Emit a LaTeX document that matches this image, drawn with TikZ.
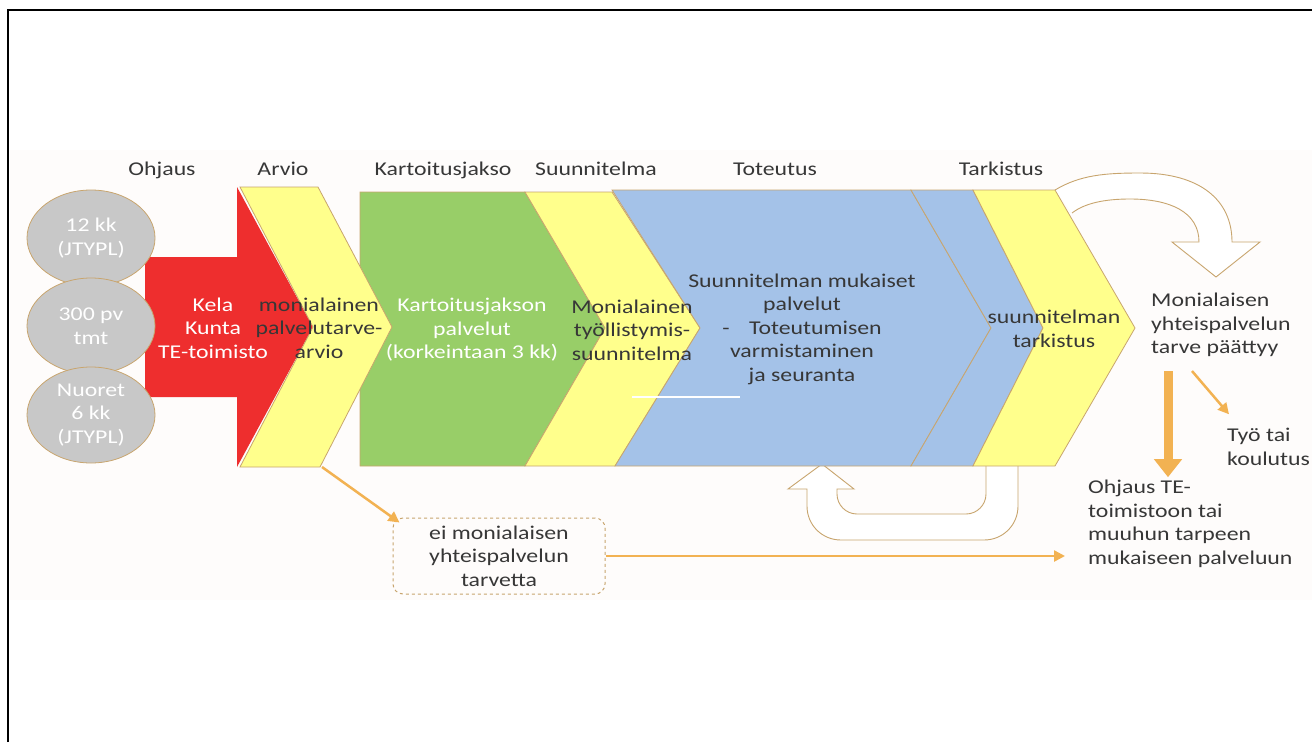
\documentclass[tikz,border=0pt]{standalone}
\usepackage{fontspec}
\setmainfont{Carlito}[FakeStretch=1.22]
\usetikzlibrary{shapes.geometric, arrows.meta}

\definecolor{edgetan}{RGB}{200,165,110}
\definecolor{darktext}{RGB}{55,55,55}
\definecolor{redfill}{RGB}{238,46,46}
\definecolor{yellowfill}{RGB}{255,255,140}
\definecolor{greenfill}{RGB}{152,206,104}
\definecolor{bluefill}{RGB}{164,194,232}
\definecolor{grayfill}{RGB}{200,200,200}
\definecolor{orangeline}{RGB}{242,178,82}
\definecolor{paneltint}{RGB}{254,252,251}

\tikzset{
  stage/.style={draw=edgetan, line width=0.8pt},
  head/.style={text=darktext, anchor=base},
  txt/.style={text=darktext, align=center},
  wtxt/.style={text=white, align=center},
  ltxt/.style={text=darktext, align=left, anchor=west, inner sep=0pt},
  bubble/.style={ellipse, draw=edgetan, line width=0.8pt, fill=grayfill,
    minimum width=128pt, minimum height=96pt, text=white, align=center, inner sep=0pt},
  uturn/.style={draw=edgetan, line width=0.9pt, fill=white},
  flow/.style={orangeline, line width=2.5pt, -{Triangle[width=11pt,length=11pt]}},
  bigflow/.style={orangeline, line width=9pt, -{Triangle[width=27pt,length=18pt]}}
}

\begin{document}
\begin{tikzpicture}[x=1pt, y=-1pt, font=\fontsize{19.5}{23.5}\selectfont]
    \useasboundingbox (0,0) rectangle (1312,742);
    \fill[paneltint] (10,150) rectangle (1312,600);
    \draw[line width=2.5pt] (8,742) -- (8,10) -- (1312,10);

    %loop arrows
    \draw[uturn] (1055,190) .. controls (1080,175) and (1105,173) .. (1140,173)
      .. controls (1200,173) and (1232,200) .. (1232,242) -- (1260,242) -- (1216,277)
      -- (1172,242) -- (1199,242) .. controls (1199,212) and (1170,199) .. (1130,199)
      .. controls (1105,199) and (1085,203) .. (1072,213);
    \draw[uturn] (1018,466) -- (1018,506) .. controls (1018,525) and (1003,540) .. (984,540)
      -- (841,540) .. controls (822,540) and (807,525) .. (807,506) -- (807,489)
      -- (788,489) -- (822,464) -- (854,489) -- (837,489) -- (837,494)
      .. controls (837,505) and (846,514) .. (857,514) -- (966,514)
      .. controls (977,514) and (986,505) .. (986,494) -- (986,466);

    %stages
    \draw[stage, fill=greenfill] (360,192) -- (525,192) -- (605,328) -- (525,466)
      -- (360,466) -- cycle;
    \fill[redfill] (145,257) -- (237,257) -- (237,187) -- (313,327) -- (237,467)
      -- (237,397) -- (145,397) -- cycle;
    \draw[stage, fill=yellowfill] (240,187) -- (318,187) -- (392,327) -- (320,467)
      -- (240,467) -- (313,327) -- cycle;
    \draw[stage, fill=yellowfill] (525,192) -- (612,192) -- (700,328) -- (615,466)
      -- (525,466) -- (605,328) -- cycle;
    \draw[stage, fill=bluefill] (612,190) -- (911,190) -- (991,328) -- (911,466)
      -- (615,466) -- (700,328) -- cycle;
    \draw[stage, fill=bluefill] (911,190) -- (973,190) -- (1043,328) -- (973,466)
      -- (911,466) -- (991,328) -- cycle;
    \draw[stage, fill=yellowfill] (973,190) -- (1055,190) -- (1135,328) -- (1055,466)
      -- (973,466) -- (1043,328) -- cycle;
    \draw[white, line width=2pt] (632,397) -- (740,397);

    %bubbles
    \node[bubble] (b12) at (91,238) {12 kk\\(JTYPL)};
    \node[bubble] (b300) at (91,326) {300 pv\\tmt};
    \node[bubble] (bnuo) at (91,415) {Nuoret\\6 kk\\(JTYPL)};

    %headings
    \node[head] (hohj) at (162,175) {Ohjaus};
    \node[head] (harv) at (283,175) {Arvio};
    \node[head] (hkar) at (443,175) {Kartoitusjakso};
    \node[head] (hsuu) at (596,175) {Suunnitelma};
    \node[head] (htot) at (775,175) {Toteutus};
    \node[head] (htar) at (1001,175) {Tarkistus};

    %stage texts
    \node[wtxt] (kela) at (213,328) {Kela\\Kunta\\TE-toimisto};
    \node[txt] (arvio) at (319,328) {monialainen\\palvelutarve-\\arvio};
    \node[wtxt] (kart) at (472,330) {Kartoitusjakson\\palvelut\\(korkeintaan 3 kk)};
    \node[txt] (tyol) at (632,330) {Monialainen\\työllistymis-\\suunnitelma};
    \node[txt] (palv) at (802,329) {Suunnitelman mukaiset\\palvelut\\-\quad Toteutumisen\\varmistaminen\\ja seuranta};
    \node[txt] (tark) at (1054,329) {suunnitelman\\tarkistus};

    %outcomes
    \node[ltxt] (mon) at (1151,325) {Monialaisen\\yhteispalvelun\\tarve päättyy};
    \node[ltxt] (tyo) at (1227,447) {Työ tai\\koulutus};
    \node[ltxt] (ohj) at (1088,524) {Ohjaus TE-\\toimistoon tai\\muuhun tarpeen\\mukaiseen palveluun};
    \node[txt, draw=edgetan, dashed, line width=1pt, rounded corners=10pt,
      minimum width=212pt, minimum height=76pt, inner sep=0pt] (box) at (499,556)
      {ei monialaisen\\yhteispalvelun\\tarvetta};

    \coordinate (arvbot) at (322,467);
    \draw[flow] (arvbot) -- ([xshift=7pt,yshift=-5pt]box.north west);
    \draw[flow] (box.east) -- ([xshift=-23pt]box.east -| ohj.west);
    \draw[flow] ([xshift=41pt,yshift=-14pt]mon.south west) -- ([xshift=2pt,yshift=14pt]tyo.north west);
    \draw[bigflow] ([xshift=17pt,yshift=-14pt]mon.south west) -- ([xshift=80pt,yshift=3pt]ohj.north west);
  \end{tikzpicture}
\end{document}
